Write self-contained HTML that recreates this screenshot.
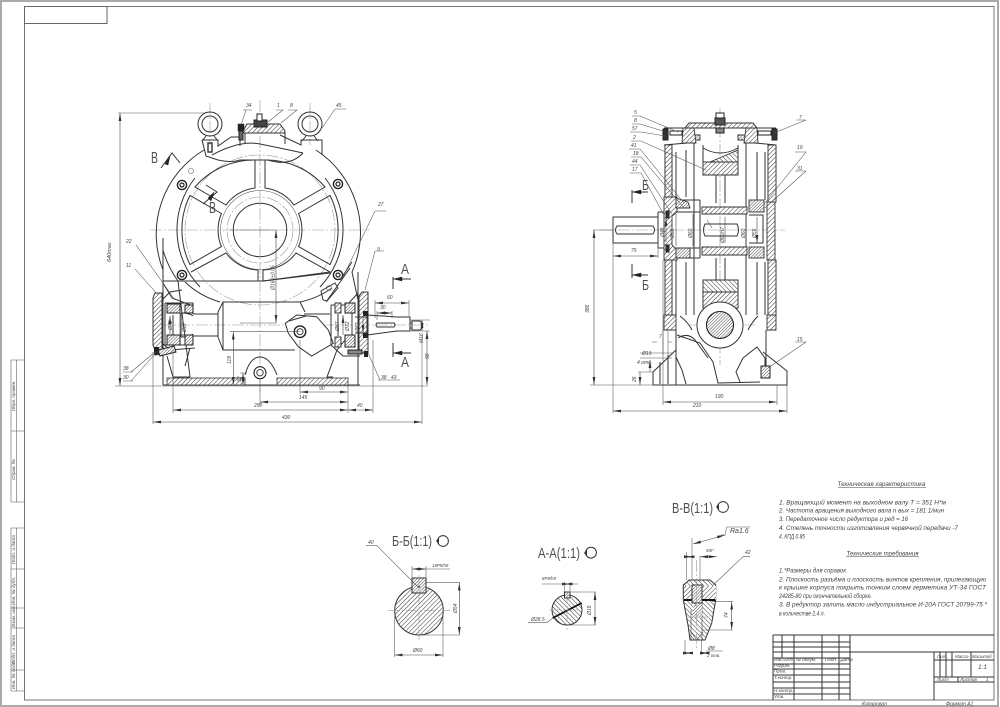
<!DOCTYPE html>
<html><head><meta charset="utf-8"><title>Чертёж редуктора</title>
<style>
html,body{margin:0;padding:0;background:#fff}
svg{display:block}
text{font-family:"Liberation Sans","Noto Sans CJK SC",sans-serif;font-style:italic;fill:#444;stroke:none}
.l{font-size:5px}
.n{font-size:6.4px;fill:#3a3a3a}
.h{font-size:15px;font-style:normal;fill:#505050}
.tb{font-size:4.6px}
.m,.m *{fill:none;stroke:#333;stroke-width:1}
.b,.b *{fill:none;stroke:#222;stroke-width:1.3}
.t,.t *{fill:none;stroke:#555;stroke-width:.55}
.c,.c *{fill:none;stroke:#9a9a9a;stroke-width:.6;stroke-dasharray:12 2 2 2}
.d,.d *{fill:none;stroke:#444;stroke-width:.6;marker-start:url(#a);marker-end:url(#a)}
.f{fill:#222;stroke:#222;stroke-width:.5}
</style></head><body>
<svg width="1000" height="707" viewBox="0 0 1000 707" xmlns="http://www.w3.org/2000/svg">
<defs>
<marker id="a" viewBox="0 0 8 4" refX="8" refY="2" markerWidth="8" markerHeight="4" markerUnits="userSpaceOnUse" orient="auto-start-reverse"><path d="M0 .6L8 2L0 3.4Z" fill="#333"/></marker>
<pattern id="h" width="3.2" height="3.2" patternUnits="userSpaceOnUse" patternTransform="rotate(45)"><rect width="3.2" height="3.2" fill="#fff"/><line x1="0" y1="0" x2="0" y2="3.2" stroke="#333" stroke-width="1"/></pattern>
<pattern id="g" width="3.2" height="3.2" patternUnits="userSpaceOnUse" patternTransform="rotate(-45)"><rect width="3.2" height="3.2" fill="#fff"/><line x1="0" y1="0" x2="0" y2="3.2" stroke="#333" stroke-width="1"/></pattern>
<pattern id="k" width="2.2" height="2.2" patternUnits="userSpaceOnUse" patternTransform="rotate(45)"><rect width="2.2" height="2.2" fill="#fff"/><line x1="0" y1="0" x2="0" y2="2.2" stroke="#333" stroke-width=".9"/></pattern>
</defs>
<rect width="1000" height="707" fill="#fff"/>
<rect x="1" y="1" width="997" height="705" fill="none" stroke="#aaa" stroke-width="2"/>
<g class="m" style="stroke:#666"><rect x="24.5" y="6.5" width="969.5" height="693.5" style="stroke:#777"/><rect x="24.5" y="6.5" width="82.5" height="17" style="stroke:#666"/></g>
<g class="t" style="stroke:#444"><g style="stroke-width:.8">
<path d="M11 360H25M11 502H25M11 360V502M16.5 360V502M11 431H25"/>
<path d="M11 528H25M11 691H25M11 528V691M16.5 528V691M11 569H25M11 608H25M11 628H25M11 670H25"/></g></g>
<g class="tb" fill="#444">
<text transform="translate(15,411) rotate(-90)">Перв. примен.</text>
<text transform="translate(15,480) rotate(-90)">Справ. №</text>
<text transform="translate(15,564) rotate(-90)">Подп. и дата</text>
<text transform="translate(15,605) rotate(-90)">Инв. № дубл.</text>
<text transform="translate(15,627) rotate(-90)">Взам. инв.</text>
<text transform="translate(15,664) rotate(-90)">Подп. и дата</text>
<text transform="translate(15,689) rotate(-90)">Инв. № подл.</text>
</g>

<!-- ==== LEFT VIEW ==== -->
<g class="c">
<path d="M260 100V392"/><path d="M150 230H370"/><path d="M160 325H430"/><path d="M210 103V145M310 103V145"/>
<circle cx="260" cy="230" r="75"/><circle cx="260" cy="230" r="33"/>
</g>
<g class="m">
<path d="M163 270A98 98 0 0 1 204 150M316 150A98 98 0 0 1 352 272"/>
<path d="M163 250A98 98 0 0 0 178 281"/>
<path d="M195 178A83 83 0 0 0 200 287M325 178A83 83 0 0 1 320 287"/>
<path d="M265 188V160A78 78 0 0 1 325 187L294 205A42 42 0 0 0 265 188Z"/>
<path d="M255 188V160A78 78 0 0 0 195 187L226 205A42 42 0 0 1 255 188Z"/>
<path d="M298.6 213.5L330 195.4A78 78 0 0 1 330 264.6L298.6 246.5A42 42 0 0 0 298.6 213.5Z"/>
<path d="M221.4 213.5L190 195.4A78 78 0 0 0 190 264.6L221.4 246.5A42 42 0 0 1 221.4 213.5Z"/>
<path d="M191 272L226 253A42 42 0 0 0 258 270V281H191"/>
<path d="M263 270A42 42 0 0 0 296 253L330 272L263 281Z"/>
<circle cx="260" cy="230" r="26.7"/><circle cx="260" cy="230" r="39.5" class="t"/>
<path d="M185 282A85 85 0 0 0 220 302M300 302A85 85 0 0 0 332 288"/>
<path d="M163 281H263L330 273"/>
<path d="M202 140H218V146L231 137H240V146M280 135L301 145V140H322V155"/>
<path d="M202 140L206 156L218 160"/>
<path d="M212 155Q240 140 260 144T303 153"/>
<path d="M218 160Q232 163 240 160H268Q290 167 303 153"/>
<rect x="208" y="143" width="4" height="9" style="stroke-width:1.4"/>
<circle cx="210" cy="124" r="12"/><circle cx="210" cy="124" r="8"/>
<circle cx="310" cy="124" r="12"/><circle cx="310" cy="124" r="8"/>
<path d="M206 136L202 141M214 136L218 141M306 136L302 141M314 136L318 141"/>
<path d="M245 144V132H285V144"/>
</g>
<path d="M243 131L247 124H280L285 131V133H243Z" fill="url(#h)" stroke="#333"/>
<rect x="238" y="124" width="6" height="7" class="f"/><path d="M239 131H243V140H239Z" fill="#666" stroke="#222"/>
<rect x="254" y="120" width="13" height="7" fill="#444" stroke="#222"/><rect x="257" y="114" width="5" height="7" fill="#fff" stroke="#222"/>
<g fill="#fff" stroke="#222" stroke-width="1.4">
<circle cx="182" cy="185" r="4.6"/><circle cx="338" cy="184" r="4.6"/><circle cx="182" cy="275" r="4.6"/><circle cx="338" cy="275" r="4.6"/>
</g>
<g fill="none" stroke="#222" stroke-width="1.2"><circle cx="182" cy="185" r="2"/><circle cx="338" cy="184" r="2"/><circle cx="182" cy="275" r="2"/><circle cx="338" cy="275" r="2"/></g>
<g class="t"><circle cx="191" cy="171" r="2.5"/><circle cx="329" cy="288" r="2.5"/></g>
<path class="m" d="M323 300L321 291L335 283L338 288L327 301Z"/>
<path class="m" d="M340 280L352 262M326 302L350 268"/>

<g class="m">
<path d="M163 238V385M358 272V385"/>
<path d="M178 281L190 377M352 272L358 300"/>
<path d="M163 385H360"/>
<path d="M167 356L173 377H190M333 377H327L337 350L345 340"/>
<path d="M245 375Q250 357 260 357T277 375"/>
<path d="M218 312L223 302H300L305 312"/>
<path d="M218 337L223 350H295"/>
<path d="M218 312V337M223 302V350"/>
<path d="M193 314H218M193 336H218"/>
<path d="M304 314H330M310 336H330"/>
</g>
<path class="m" d="M285.3 323.3L296.7 315L316.7 316.7L328.3 330L333.3 343.3L311.7 356L298.3 346.7L288.3 333.3Z" fill="#fff" style="fill:#fff"/>
<path class="m" d="M289 321L306 316"/>
<circle cx="300" cy="331.7" r="5.8" fill="#fff" stroke="#222" stroke-width="1.4"/><circle cx="300" cy="331.7" r="3" fill="none" stroke="#333"/>
<rect x="167" y="378" width="78" height="7" fill="url(#h)" stroke="#333" stroke-width=".8"/>
<rect x="277" y="378" width="71" height="7" fill="url(#h)" stroke="#333" stroke-width=".8"/>
<circle cx="260" cy="372.7" r="6" fill="#fff" stroke="#222" stroke-width="1.1"/><circle cx="260" cy="372.7" r="3.2" fill="none" stroke="#444"/>
<path d="M155 293L162 293L162 350L155 350L153 345V298Z" fill="url(#h)" stroke="#333"/>
<g class="m">
<path d="M162 300L170 292L182 290M162 343L170 350L195 348"/>
<path d="M165 303H193V313H181M165 345H193V335H181"/>
<path d="M165 303V345"/>
<path d="M173 315V335M181 313V337M181 313Q190 313 193 316M181 337Q190 337 193 334"/>
<path d="M163 283L172 298L193 306V314M190 348L185 366"/>
</g>
<rect x="167" y="304" width="13" height="9" fill="url(#k)" stroke="#222"/>
<rect x="167" y="335" width="13" height="10" fill="url(#k)" stroke="#222"/>
<rect x="185" y="305" width="8" height="8" fill="url(#k)" stroke="#222"/>
<rect x="185" y="335" width="8" height="10" fill="url(#k)" stroke="#222"/>
<rect x="154" y="347" width="5" height="8" fill="#222"/>
<path d="M158 350L174 346L176 352L160 356Z" fill="url(#k)" stroke="#222"/>
<g class="d"><path d="M170 316V334M180 314V336M155 355L160 349"/></g>
<text class="l" transform="translate(172,330) rotate(-90)">Ø72</text><text class="l" transform="translate(186,332) rotate(-90)">Ø87</text>
<path d="M362 292H368V353H362L359 349V296Z" fill="url(#h)" stroke="#333"/>
<g class="m">
<path d="M331 305H347L358 293M331 345L343 356L360 356"/>
<path d="M331 305V345M352 306V346"/>
<path d="M367 315L397 317H410V331H397L367 335V315"/>
<path d="M412 321H420L422 323V328L420 330H412ZM410 323H412V328H410Z"/>
<path d="M377 323H394Q396 325 394 327H377Q375 325 377 323Z"/>
<path d="M355 317H367M355 333H367"/>
<path d="M338 314V336"/>
</g>
<rect x="345" y="303" width="10" height="10" fill="url(#k)" stroke="#222"/>
<rect x="345" y="335" width="10" height="12" fill="url(#k)" stroke="#222"/>
<rect x="335" y="303" width="6" height="10" fill="url(#h)" stroke="#333"/>
<rect x="335" y="337" width="6" height="10" fill="url(#h)" stroke="#333"/>
<rect x="363" y="311" width="5" height="5" fill="#222"/><rect x="363" y="333" width="5" height="5" fill="#222"/>
<rect x="348" y="350" width="14" height="4" fill="#888" stroke="#222"/><rect x="364" y="351" width="4" height="6" fill="#222"/>
<g class="d"><path d="M343 315V335M352 316V334M363 316V333"/></g>
<text class="l" transform="translate(339,331) rotate(-90)">Ø87</text><text class="l" transform="translate(349,331) rotate(-90)">Ø72</text><text class="l" transform="translate(359,332) rotate(-90)">Ø87</text>

<g class="t">
<path d="M118 113H205M115 386H428"/>
<path d="M153 352V424M422 335V424M173 350V413M348 380V413M373 340V413M300 340V394M260 380V405"/>
<path d="M276 230H230M230 331.7H300M240 373H247"/>
<path d="M375 300V318M409 300V316M377 311V320M392 311V318"/>
<path d="M410 320H430M410 331H430"/>
</g>
<g class="d">
<path d="M120 113V386"/><path d="M153 422H422"/><path d="M173 410H348"/><path d="M348 410H373"/><path d="M260 402H348"/><path d="M300 392H348"/>
<path d="M276 230V323"/><path d="M233.3 331.7V385"/><path d="M243 373V385"/>
<path d="M375 303H409"/><path d="M377 313H392"/><path d="M422 320V331"/><path d="M427 331V385"/>
</g>
<path class="t" d="M276 323H240"/>
<g class="l">
<text transform="translate(111,262) rotate(-90)" style="font-size:5.5px">640max</text>
<text x="282" y="419">430</text><text x="254" y="407">290</text><text x="299" y="399">145</text><text x="319" y="390">90</text><text x="357" y="407">40</text>
<text transform="translate(274.5,290) rotate(-90)">Ø160±0.05</text>
<text transform="translate(231,364) rotate(-90)">118</text><text transform="translate(241,382) rotate(-90)">32</text>
<text x="387" y="299">60</text><text x="380" y="309">30</text>
<text transform="translate(423,343) rotate(-90)">M16</text><text transform="translate(429,359) rotate(-90)">98</text>
<text x="246" y="107">34</text><text x="277" y="107">1</text><text x="290" y="107">8</text><text x="336" y="107">45</text>
<text x="378" y="206">27</text><text x="377" y="251">9</text>
<text x="126" y="243">22</text><text x="126" y="267">11</text><text x="123" y="370">38</text><text x="123" y="379">30</text>
<text x="381" y="379">38</text><text x="391" y="379">43</text>
</g>
<g class="t" style="stroke:#444">
<path d="M136 245L175 300M135 269L158 295M131 372L155 352M131 381L155 354"/>
<path d="M123 372H133M123 381H133"/>
<path d="M243 110L252 110M246 110L241 125M276 110H283L268 122M288 110H297L281 123M335 109H346M335 109L322 128"/>
<path d="M375 211H386M375 211L343 277M375 251H384M375 251L365 290M378 380H400M380 380L368 353"/>
</g>
<g class="m" style="stroke-width:1">
<path d="M161 168L172 153L180 163"/>
<path d="M203 204L217 192L206 185"/>
<path d="M393 277V289M393 279H411"/>
<path d="M393 343V357M393 353H411"/>
</g>
<g class="f"><path d="M170 156L165 164L168 165Z"/><path d="M208 198L214 192L211 201Z"/><path d="M394 279L402 277V281Z"/><path d="M394 353L402 351V355Z"/></g>
<text x="151" y="163" style="font-size:16px" textLength="7" lengthAdjust="spacingAndGlyphs" class="h">В</text>
<text x="209" y="213" style="font-size:16px" textLength="7" lengthAdjust="spacingAndGlyphs" class="h">В</text>
<text x="401" y="274" textLength="8" lengthAdjust="spacingAndGlyphs" class="h">А</text>
<text x="401" y="367" textLength="8" lengthAdjust="spacingAndGlyphs" class="h">А</text>

<!-- ==== RIGHT VIEW ==== -->
<g class="c"><path d="M720 108V365"/><path d="M600 230H785"/><path d="M690 325H755"/><circle cx="720" cy="325" r="19"/></g>
<path d="M685 128H757L753 123H689Z" fill="url(#h)" stroke="#333"/>
<rect x="716" y="113" width="8" height="6" fill="#fff" stroke="#222"/><rect x="715" y="118" width="10" height="7" fill="#555" stroke="#222"/><rect x="716" y="128" width="8" height="5" fill="#888" stroke="#222"/>
<g class="m">
<path d="M664 145L687 143L694 128M776 145L755 143L747 128"/>
<path d="M664 128H685M757 128H776"/>
<path d="M694 128V315M746 128V315"/>
<path d="M665 145V197M676 152V197M672 152V197M686 150V197"/>
<path d="M765 152V200M776 145V202M768 152V202M757 152V200"/>
<path d="M665 260V315M676 260V315M672 262V315M686 262V315"/>
<path d="M765 262V315M776 260V315M768 262V315M757 262V315"/>
<path d="M680 316Q688 322 692 330M758 316Q752 322 748 330"/>
<!-- lower casing -->
<path d="M676 330V385M766 330V372"/>
<path d="M676 350L653 372V385H787V371L763 352"/>
<path d="M677 335L700 343L713 362L718 383L760 382"/>
<path d="M743 358L757 347L765 358V372"/>
<path d="M678 338Q688 332 695 340L708 358"/>
<path d="M676 357L682 370L686 384M660 362V384M668 355V384"/>
<path d="M743 358L736 372L740 382"/>
<!-- gear -->
<path d="M703 145V175M738 145V175M703 280V308M738 280V308"/>
<path d="M703 148Q720 158 738 148"/>
<path d="M716 175V203M725 175V203M716 258V280M725 258V280"/>
<!-- hub -->
<path d="M658 212H700M658 248H700M658 212V248M700 200V258"/>
<path d="M613 217H658V243H613ZM617 226H653Q656 230 653 234H617Q614 230 617 226Z"/>
<path d="M749 215H763V243H749"/>
<path d="M705 224H737Q740 230 737 236H705Q702 230 705 224Z"/>
<path d="M675 200H700M675 258H700"/>
</g>
<g stroke="#333" stroke-width=".9">
<path d="M703 165L738 150V175H703Z" fill="url(#g)"/>
<path d="M703 162H738V175H703Z" fill="url(#h)"/>
<path d="M703 280H738V292H703Z" fill="url(#g)"/>
<path d="M703 292H738V308H703Z" fill="url(#h)"/>
<path d="M702 207H747V214H702Z" fill="url(#h)"/>
<path d="M702 247H747V255H702Z" fill="url(#h)"/>
<path d="M664 197H677V212L672 216V245L677 250V260H664Z" fill="url(#h)"/>
<path d="M767 202H775V260H767Z" fill="url(#h)"/>
<path d="M664 315H676V330H664ZM767 315H776V330H767Z" fill="url(#h)"/>
<rect x="665" y="145" width="7" height="52" fill="url(#h)"/>
<rect x="768" y="145" width="8" height="57" fill="url(#h)"/>
<rect x="665" y="260" width="7" height="55" fill="url(#h)"/>
<rect x="768" y="260" width="8" height="55" fill="url(#h)"/>
<path d="M676 198L688 202L690 208H676ZM676 248H690V258H676Z" fill="url(#k)"/>
<rect x="749" y="200" width="15" height="12" fill="url(#k)"/>
<rect x="749" y="247" width="15" height="11" fill="url(#k)"/>
<path d="M686 140H700V135H686ZM738 135H752V140H738Z" fill="url(#k)"/>
<path d="M683 128L694 128L696 143L682 143Z" fill="url(#h)"/>
<path d="M746 128L757 128L758 143L744 143Z" fill="url(#h)"/>
</g>
<circle cx="720" cy="325" r="23" fill="#fff" stroke="#333" stroke-width="1"/>
<circle cx="720" cy="325" r="13.5" fill="url(#k)" stroke="#222" stroke-width="1.1"/>
<g fill="#333" stroke="#222">
<rect x="663" y="129" width="5" height="11"/><rect x="670" y="131" width="12" height="4" fill="#fff"/>
<rect x="772" y="129" width="5" height="11"/><rect x="758" y="131" width="13" height="4" fill="#fff"/>
<rect x="666" y="211" width="3" height="7"/><rect x="666" y="245" width="3" height="7"/>
<rect x="761" y="366" width="9" height="12" fill="url(#k)"/>
</g>
<g class="t">
<path d="M593 230H613M590 385H653"/>
<path d="M613 243V413M787 385V413M663 260V405M777 385V405"/>
<path d="M640 358H672M640 353H672M638 372H653"/>
<path d="M658 243V258"/>
<path d="M652 342H657M668 342H672M663 330V355M668 330V355"/>
</g>
<g class="d">
<path d="M594 230V385"/><path d="M613 256H658"/><path d="M613 411H787"/><path d="M663 402H777"/>
<path d="M650 360V372M640 372V385"/>
<path d="M666 218V242M676 214V246M693 214V246M725 217V243M746 214V246M757 217V243"/>
</g>
<g class="l">
<text transform="translate(589,313) rotate(-90)">386</text>
<text x="631" y="252">75</text><text x="693" y="407">210</text><text x="715" y="398">190</text>
<text x="659" y="338">7</text><text x="642" y="355">Ø19</text><text x="637" y="364">4 отв.</text>
<text transform="translate(636,382) rotate(-90)">26</text>
<text transform="translate(664,237) rotate(-90)">Ø48</text><text transform="translate(674,238) rotate(-90)">Ø55</text><text transform="translate(692,238) rotate(-90)">Ø60</text>
<text transform="translate(724,243) rotate(-90)">Ø60H7</text><text transform="translate(745,238) rotate(-90)">Ø60</text><text transform="translate(756,238) rotate(-90)">Ø55</text>
<text x="634" y="114">5</text><text x="634" y="122">8</text><text x="632" y="130">57</text><text x="633" y="139">2</text><text x="631" y="147">41</text><text x="633" y="155">18</text><text x="632" y="163">44</text><text x="632" y="171">17</text>
<text x="799" y="119">7</text><text x="797" y="149">19</text><text x="797" y="170">31</text><text x="797" y="341">15</text>
</g>
<g class="t" style="stroke:#444">
<path d="M632 116H640L678 132M632 124H640L663 131M630 132H641L665 136M631 141H641L706 170M629 149H640L684 203M631 157H641L684 208M630 165H640L672 214M630 173H641L664 215"/>
<path d="M796 120H806L774 133M795 152H806L764 204M795 171H806L765 208M795 342H806L768 368"/>
<path d="M707 220L712 228"/>
</g>
<g class="m"><path d="M632 190V203M632 192H648M632 264V278M632 275H648"/></g>
<g class="f"><path d="M633 192L641 190V194Z"/><path d="M633 275L641 273V277Z"/></g>
<text x="642" y="190" textLength="7" lengthAdjust="spacingAndGlyphs" class="h">Б</text>
<text x="642" y="290" textLength="7" lengthAdjust="spacingAndGlyphs" class="h">Б</text>

<!-- ==== SECTIONS ==== -->
<text x="392" y="546" class="h" textLength="40" lengthAdjust="spacingAndGlyphs">Б-Б(1:1)</text>
<circle cx="443" cy="541" r="5.4" fill="none" stroke="#333" stroke-width="1"/>
<path d="M436 541L439 537V544Z" fill="#333"/>
<circle cx="419" cy="610.7" r="24.3" fill="url(#h)" stroke="#333" stroke-width="1"/>
<rect x="412" y="578" width="14" height="15" fill="url(#k)" stroke="#333"/>
<circle cx="419" cy="586.7" r="1" fill="#222"/>
<g class="c"><path d="M388 610.7H450M419 575V640"/></g>
<g class="t"><path d="M426 582.7H460M420 635H460M412 566V578M426 566V578M394.7 612V657M443 612V657"/></g>
<g class="d"><path d="M459.3 582.7V635"/><path d="M394.7 655H443"/><path d="M412 569H426"/></g>
<path class="t" d="M426 569H450M366 545.7H377L418 587"/>
<g class="l"><text x="368" y="544">40</text><text x="432" y="567" style="font-size:4.4px">18P9/h9</text><text x="413" y="652">Ø60</text><text transform="translate(457,613) rotate(-90)">Ø54</text></g>

<text x="538" y="558" class="h" textLength="42" lengthAdjust="spacingAndGlyphs">А-А(1:1)</text>
<circle cx="591" cy="552.7" r="5.4" fill="none" stroke="#333" stroke-width="1"/>
<path d="M584 553L587 549V556Z" fill="#333"/>
<circle cx="567" cy="610" r="15" fill="url(#g)" stroke="#333" stroke-width="1"/>
<rect x="564.5" y="592" width="5.5" height="6" fill="url(#k)" stroke="#333"/>
<path d="M552.7 618L581.7 603" stroke="#111" stroke-width="1.7"/>
<g class="c"><path d="M549 610H585M567 592V630"/></g>
<g class="t"><path d="M568 592H596M568 625H596M564.5 582V592M570 582V592M528 622.7H547L552.7 618"/></g>
<g class="d"><path d="M595 592V625"/><path d="M564.5 584H570"/></g>
<path class="t" d="M541.7 584H578"/>
<g class="l"><text x="542" y="580" style="font-size:4.4px">8P9/h9</text><text x="531" y="621">Ø28.5</text><text transform="translate(591,615) rotate(-90)">Ø19</text></g>

<text x="672" y="513" class="h" textLength="41" lengthAdjust="spacingAndGlyphs">В-В(1:1)</text>
<circle cx="723" cy="507" r="5.4" fill="none" stroke="#333" stroke-width="1"/>
<path d="M716 507L719 503V510Z" fill="#333"/>
<path d="M683.3 585L689.3 580H710L715.7 585V600L711.7 623.3L705 640H690L688.3 626.7L683.3 600Z" fill="url(#g)" stroke="#333" stroke-width="1"/>
<path d="M684 586H716V600H684Z" fill="url(#h)" stroke="none"/>
<path d="M684 600H692M702 600H715.5" stroke="#111" stroke-width="2"/>
<path d="M692 585H702V603H692Z" fill="url(#k)" stroke="#333"/>
<path d="M691 610V640M702 603V640M691 632L696.7 640L703 632" fill="none" stroke="#444" stroke-width=".6"/>
<path d="M693 605H702L702 618H692Z" fill="url(#k)" stroke="none"/>
<g class="c"><path d="M696.7 560V650M686 617H708"/></g>
<g class="t">
<path d="M692 538V580M700 556V580M686.7 552V580"/>
<path d="M712 601.7H733M702 630H733M685 640V655M701.7 640V655"/>
<path d="M721 535L725 535L726.7 527H750M743 556.7H750M743 556.7L713.3 585"/>
<path d="M706 651H723"/>
</g>
<g class="d"><path d="M725 535L693 544"/><path d="M686.7 556.7H692"/><path d="M700 556.7H716.7"/><path d="M731.7 601.7V630"/><path d="M685 653H691"/><path d="M701.7 653H708"/></g>
<g class="l"><text x="706" y="552" style="font-size:4.4px">M5*</text><text x="745" y="554">42</text><text transform="translate(728,618) rotate(-90)">74</text><text x="708" y="650">Ø8</text><text x="707" y="657" style="font-size:4.4px">2 отв.</text></g>
<text x="730" y="533" style="font-size:7px">Ra1.6</text>

<!-- ==== NOTES ==== -->
<g class="n">
<text x="837.5" y="486" textLength="88" lengthAdjust="spacingAndGlyphs">Техническая характеристика</text>
<text x="779" y="504.5" textLength="167" lengthAdjust="spacingAndGlyphs">1. Вращающий момент на выходном валу  T = 351 Н*м</text>
<text x="779" y="512.5" textLength="165" lengthAdjust="spacingAndGlyphs">2. Частота вращения выходного вала  n вых = 181 1/мин</text>
<text x="779" y="521" textLength="129" lengthAdjust="spacingAndGlyphs">3. Передаточное число редуктора  u ред = 16</text>
<text x="779" y="530" textLength="179" lengthAdjust="spacingAndGlyphs">4. Степень точности изготовления червячной передачи -7</text>
<text x="779" y="538.5" textLength="26" lengthAdjust="spacingAndGlyphs">4. КПД 0.85</text>
<text x="846.5" y="555.5" textLength="72" lengthAdjust="spacingAndGlyphs">Технические требования</text>
<text x="779" y="572.5" textLength="67" lengthAdjust="spacingAndGlyphs">1.*Размеры для справок</text>
<text x="779" y="581.5" textLength="207" lengthAdjust="spacingAndGlyphs">2. Плоскость разъёма и плоскость винтов крепления, прилегающую</text>
<text x="779" y="589.5" textLength="207" lengthAdjust="spacingAndGlyphs">к крышке корпуса покрыть тонким слоем герметика УТ-34  ГОСТ</text>
<text x="779" y="598" textLength="93" lengthAdjust="spacingAndGlyphs">24285-80 при окончательной сборке.</text>
<text x="779" y="606.5" textLength="208" lengthAdjust="spacingAndGlyphs">3. В редуктор залить масло индустриальное И-20А ГОСТ 20799-75 *</text>
<text x="779" y="615.5" textLength="46" lengthAdjust="spacingAndGlyphs">в количестве 2,4 л.</text>
</g>
<path class="t" d="M838 487.5H926M846 556.5H919" style="stroke:#444"/>

<!-- ==== TITLE BLOCK ==== -->
<g class="m" style="stroke:#555;stroke-width:.9">
<path d="M773 635V700M773 635H994"/>
<path d="M773 652H994M850 635V700M934 652V700"/>
<path d="M773 642H850M773 647H850M773 658H850M773 664H850M773 669H850M773 675H850M773 682H850M773 688H850M773 694H850"/>
<path d="M782 635V658M794 635V700M822 635V700M839 635V700"/>
<path d="M934 660H994M934 677H994M934 682H994"/>
<path d="M940 652V677M946 652V677M952 652V677M971 652V677M958 677V682"/>
</g>
<g class="tb">
<text x="774" y="661" style="font-size:4.4px" textLength="19" lengthAdjust="spacingAndGlyphs">Изм.Лист</text>
<text x="796" y="661">№ докум.</text><text x="825" y="661">Подп.</text><text x="840.5" y="661">Дата</text>
<text x="774" y="667">Разраб.</text><text x="774" y="672.5">Пров.</text><text x="774" y="679">Т.контр.</text><text x="774" y="692">Н.контр.</text><text x="774" y="698">Утв.</text>
<text x="937" y="658">Лит.</text><text x="955" y="658">Масса</text><text x="972" y="658" style="font-size:4.2px">Масштаб</text>
<text x="937" y="681">Лист</text><text x="960" y="681">Листов</text><text x="986" y="681">1</text>
<text x="978" y="669" style="font-size:6.5px">1:1</text>
<text x="862" y="705.5" style="font-size:5px">Копировал</text><text x="946" y="705.5" style="font-size:5px">Формат   А1</text>
</g>
</svg>
</body></html>
